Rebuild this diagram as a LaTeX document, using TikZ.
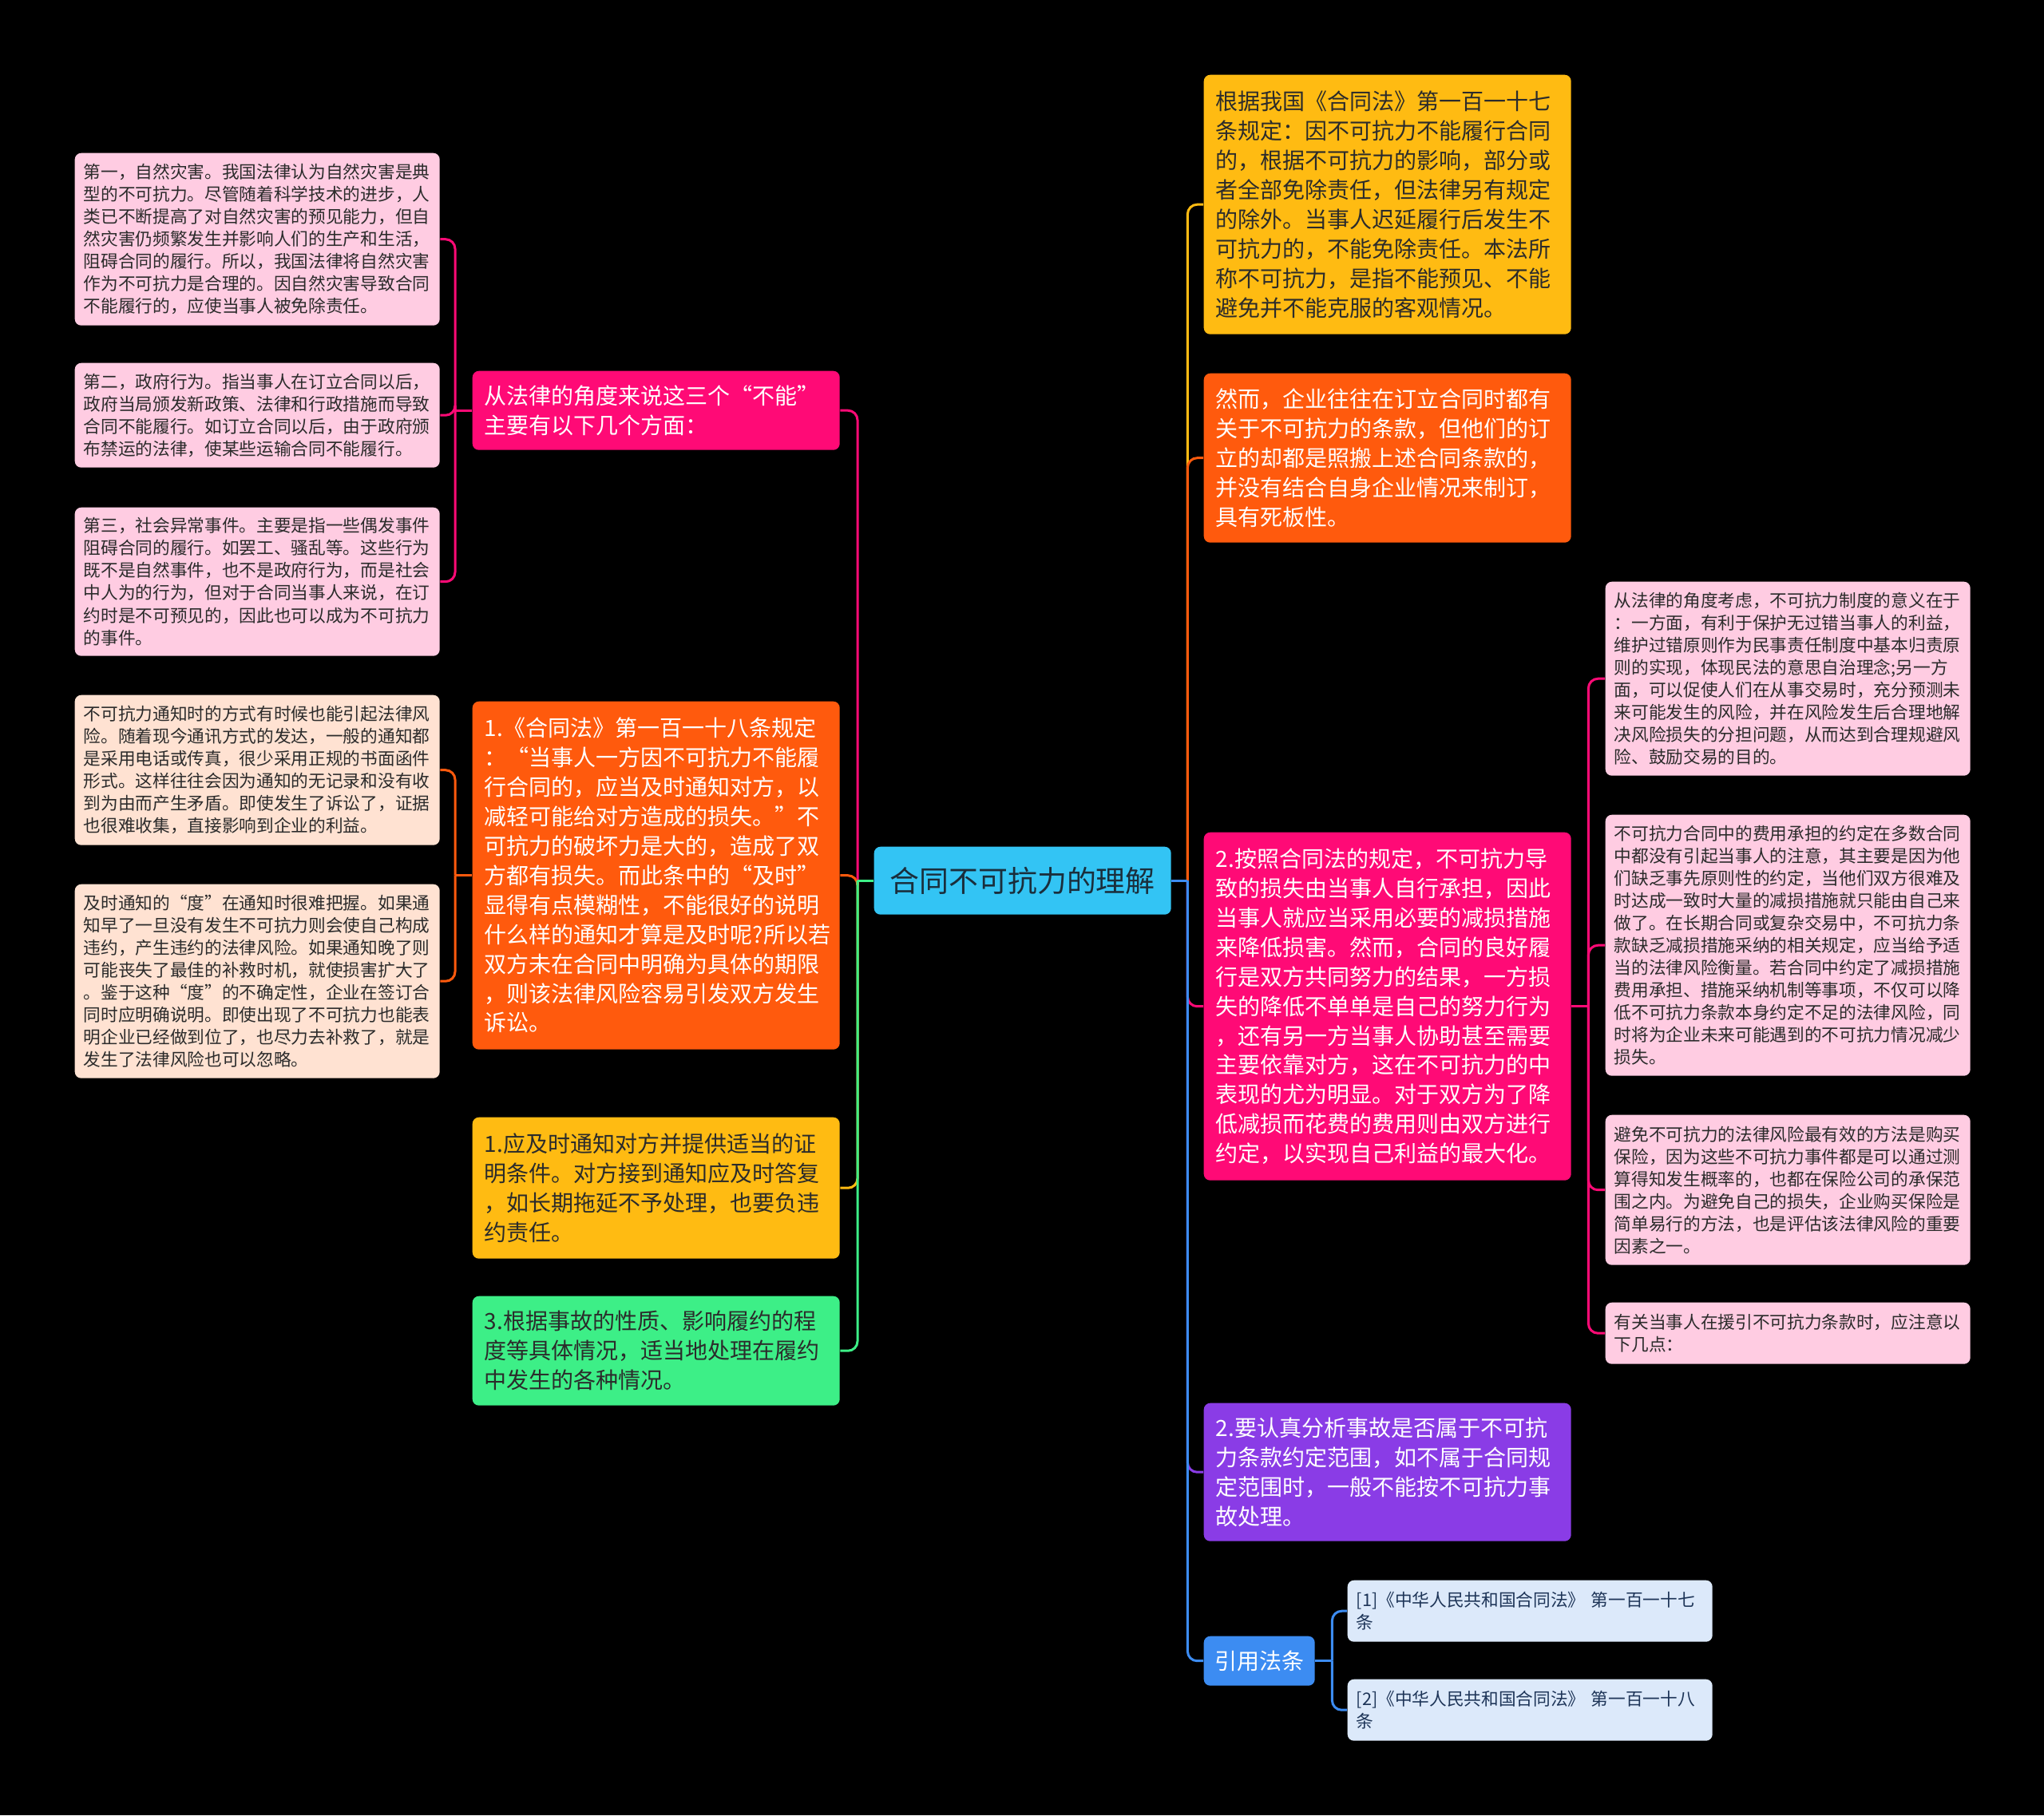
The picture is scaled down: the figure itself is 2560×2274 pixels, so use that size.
\documentclass[tikz,border=0pt]{standalone}
\usepackage{fontspec}
\usepackage{xcolor}
\usepackage{tikz}
\usetikzlibrary{positioning, calc}
\newfontfamily\cjk{Noto Sans CJK SC}

\definecolor{cRoot}{HTML}{33C4F4}
\definecolor{cRootText}{HTML}{1A2E3C}
\definecolor{cPink}{HTML}{FF0A76}
\definecolor{cOrange}{HTML}{FF5A0D}
\definecolor{cYellow}{HTML}{FFBB12}
\definecolor{cGreen}{HTML}{3DEF87}
\definecolor{cPurple}{HTML}{8A3CE6}
\definecolor{cBlue}{HTML}{3C8CF2}
\definecolor{cLeafPink}{HTML}{FFCCE2}
\definecolor{cLeafPeach}{HTML}{FFE2D2}
\definecolor{cLeafBlue}{HTML}{DCE9FA}
\definecolor{cInk}{HTML}{2B2B2B}
\definecolor{cNavy}{HTML}{1E3558}

\begin{document}
\begin{tikzpicture}[
    x=0.1mm, y=-0.1mm,
    root/.style={anchor=north west, fill=cRoot, text=cRootText, rounded corners=0.8mm,
      minimum width=37.2mm, minimum height=8.5mm, inner sep=0pt, font=\cjk\fontsize{10.5pt}{12pt}\selectfont},
    branch/.style={anchor=north west, rounded corners=0.8mm, align=left, text width=43mm,
      inner xsep=1.5mm, inner ysep=0pt, font=\cjk\fontsize{7.97pt}{10.5pt}\selectfont},
    tag/.style={anchor=north west, rounded corners=0.8mm, align=center, inner sep=0pt,
      font=\cjk\fontsize{7.97pt}{10.5pt}\selectfont},
    leaf/.style={anchor=north west, rounded corners=0.8mm, align=left, text width=43.5mm,
      inner xsep=1.1mm, inner ysep=0pt, text=cInk, font=\cjk\fontsize{6.17pt}{7.97pt}\selectfont},
    link/.style={draw=#1, line width=0.3mm}
]
\fill[black] (0,0) rectangle (2560,2274);
% central topic
\node[root] (root) at (1094,1060) {合同不可抗力的理解};
% left branches
\node[branch, fill=cPink, text=white, minimum height=9.9mm] (L1) at (591,464)
  {从法律的角度来说这三个“不能”\\主要有以下几个方面：};
\node[branch, fill=cOrange, text=white, minimum height=43.6mm] (L2) at (591,878)
  {1.《合同法》第一百一十八条规定\\：“当事人一方因不可抗力不能履\\行合同的，应当及时通知对方，以\\减轻可能给对方造成的损失。”不\\可抗力的破坏力是大的，造成了双\\方都有损失。而此条中的“及时”\\显得有点模糊性，不能很好的说明\\什么样的通知才算是及时呢?所以若\\双方未在合同中明确为具体的期限\\，则该法律风险容易引发双方发生\\诉讼。};
\node[branch, fill=cYellow, text=cInk, minimum height=17.7mm] (L3) at (591,1399)
  {1.应及时通知对方并提供适当的证\\明条件。对方接到通知应及时答复\\，如长期拖延不予处理，也要负违\\约责任。};
\node[branch, fill=cGreen, text=cInk, minimum height=13.7mm] (L4) at (591,1623)
  {3.根据事故的性质、影响履约的程\\度等具体情况，适当地处理在履约\\中发生的各种情况。};
% left leaves
\node[leaf, fill=cLeafPink, minimum height=21.6mm] (LL1) at (93,191)
  {第一，自然灾害。我国法律认为自然灾害是典\\型的不可抗力。尽管随着科学技术的进步，人\\类已不断提高了对自然灾害的预见能力，但自\\然灾害仍频繁发生并影响人们的生产和生活，\\阻碍合同的履行。所以，我国法律将自然灾害\\作为不可抗力是合理的。因自然灾害导致合同\\不能履行的，应使当事人被免除责任。};
\node[leaf, fill=cLeafPink, minimum height=13.1mm] (LL2) at (93,454)
  {第二，政府行为。指当事人在订立合同以后，\\政府当局颁发新政策、法律和行政措施而导致\\合同不能履行。如订立合同以后，由于政府颁\\布禁运的法律，使某些运输合同不能履行。};
\node[leaf, fill=cLeafPink, minimum height=18.6mm] (LL3) at (93,635)
  {第三，社会异常事件。主要是指一些偶发事件\\阻碍合同的履行。如罢工、骚乱等。这些行为\\既不是自然事件，也不是政府行为，而是社会\\中人为的行为，但对于合同当事人来说，在订\\约时是不可预见的，因此也可以成为不可抗力\\的事件。};
\node[leaf, fill=cLeafPeach, minimum height=18.8mm] (LL4) at (93,870)
  {不可抗力通知时的方式有时候也能引起法律风\\险。随着现今通讯方式的发达，一般的通知都\\是采用电话或传真，很少采用正规的书面函件\\形式。这样往往会因为通知的无记录和没有收\\到为由而产生矛盾。即使发生了诉讼了，证据\\也很难收集，直接影响到企业的利益。};
\node[leaf, fill=cLeafPeach, minimum height=24.3mm] (LL5) at (93,1107)
  {及时通知的“度”在通知时很难把握。如果通\\知早了一旦没有发生不可抗力则会使自己构成\\违约，产生违约的法律风险。如果通知晚了则\\可能丧失了最佳的补救时机，就使损害扩大了\\。鉴于这种“度”的不确定性，企业在签订合\\同时应明确说明。即使出现了不可抗力也能表\\明企业已经做到位了，也尽力去补救了，就是\\发生了法律风险也可以忽略。};
% right branches
\node[branch, fill=cYellow, text=cInk, minimum height=32.5mm] (R1) at (1507,93)
  {根据我国《合同法》第一百一十七\\条规定：因不可抗力不能履行合同\\的，根据不可抗力的影响，部分或\\者全部免除责任，但法律另有规定\\的除外。当事人迟延履行后发生不\\可抗力的，不能免除责任。本法所\\称不可抗力，是指不能预见、不能\\避免并不能克服的客观情况。};
\node[branch, fill=cOrange, text=white, minimum height=21.2mm] (R2) at (1507,467)
  {然而，企业往往在订立合同时都有\\关于不可抗力的条款，但他们的订\\立的却都是照搬上述合同条款的，\\并没有结合自身企业情况来制订，\\具有死板性。};
\node[branch, fill=cPink, text=white, minimum height=43.6mm] (R3) at (1507,1042)
  {2.按照合同法的规定，不可抗力导\\致的损失由当事人自行承担，因此\\当事人就应当采用必要的减损措施\\来降低损害。然而，合同的良好履\\行是双方共同努力的结果，一方损\\失的降低不单单是自己的努力行为\\，还有另一方当事人协助甚至需要\\主要依靠对方，这在不可抗力的中\\表现的尤为明显。对于双方为了降\\低减损而花费的费用则由双方进行\\约定，以实现自己利益的最大化。};
\node[branch, fill=cPurple, text=white, minimum height=17.3mm] (R4) at (1507,1757)
  {2.要认真分析事故是否属于不可抗\\力条款约定范围，如不属于合同规\\定范围时，一般不能按不可抗力事\\故处理。};
\node[tag, fill=cBlue, text=white, minimum width=13.9mm, minimum height=6.2mm] (R5) at (1507,2049) {引用法条};
% right leaves
\node[leaf, fill=cLeafPink, minimum height=24.3mm] (RR1) at (2010,728)
  {从法律的角度考虑，不可抗力制度的意义在于\\：一方面，有利于保护无过错当事人的利益，\\维护过错原则作为民事责任制度中基本归责原\\则的实现，体现民法的意思自治理念;另一方\\面，可以促使人们在从事交易时，充分预测未\\来可能发生的风险，并在风险发生后合理地解\\决风险损失的分担问题，从而达到合理规避风\\险、鼓励交易的目的。};
\node[leaf, fill=cLeafPink, minimum height=32.7mm] (RR2) at (2010,1020)
  {不可抗力合同中的费用承担的约定在多数合同\\中都没有引起当事人的注意，其主要是因为他\\们缺乏事先原则性的约定，当他们双方很难及\\时达成一致时大量的减损措施就只能由自己来\\做了。在长期合同或复杂交易中，不可抗力条\\款缺乏减损措施采纳的相关规定，应当给予适\\当的法律风险衡量。若合同中约定了减损措施\\费用承担、措施采纳机制等事项，不仅可以降\\低不可抗力条款本身约定不足的法律风险，同\\时将为企业未来可能遇到的不可抗力情况减少\\损失。};
\node[leaf, fill=cLeafPink, minimum height=18.8mm] (RR3) at (2010,1396)
  {避免不可抗力的法律风险最有效的方法是购买\\保险，因为这些不可抗力事件都是可以通过测\\算得知发生概率的，也都在保险公司的承保范\\围之内。为避免自己的损失，企业购买保险是\\简单易行的方法，也是评估该法律风险的重要\\因素之一。};
\node[leaf, fill=cLeafPink, minimum height=7.7mm] (RR4) at (2010,1631)
  {有关当事人在援引不可抗力条款时，应注意以\\下几点：};
% cited articles
\node[leaf, fill=cLeafBlue, text=cNavy, minimum height=7.7mm] (C1) at (1687,1979)
  {[1]《中华人民共和国合同法》 第一百一十七\\条};
\node[leaf, fill=cLeafBlue, text=cNavy, minimum height=7.7mm] (C2) at (1687,2103)
  {[2]《中华人民共和国合同法》 第一百一十八\\条};
% junctions
\coordinate (jRootL) at ($(root.west)+(-20,0)$);
\coordinate (jRootR) at ($(root.east)+(20,0)$);
\coordinate (jL1) at ($(L1.west)+(-21,0)$);
\coordinate (jL2) at ($(L2.west)+(-21,0)$);
\coordinate (jR3) at ($(R3.east)+(21,0)$);
\coordinate (jR5) at ($(R5.east)+(21,0)$);
% connectors to the left
\foreach \kid/\col in {L1/cPink, L2/cOrange, L3/cYellow, L4/cGreen}{
  \draw[link=\col] (root.west) -- (jRootL);
  \draw[link=\col, rounded corners=1.2mm] (jRootL) |- (\kid.east);
}
\foreach \kid in {LL1, LL2, LL3}{
  \draw[link=cPink] (L1.west) -- (jL1);
  \draw[link=cPink, rounded corners=1.2mm] (jL1) |- (\kid.east);
}
\foreach \kid in {LL4, LL5}{
  \draw[link=cOrange] (L2.west) -- (jL2);
  \draw[link=cOrange, rounded corners=1.2mm] (jL2) |- (\kid.east);
}
% connectors to the right
\foreach \kid/\col in {R1/cYellow, R2/cOrange, R3/cPink, R4/cPurple, R5/cBlue}{
  \draw[link=\col] (root.east) -- (jRootR);
  \draw[link=\col, rounded corners=1.2mm] (jRootR) |- (\kid.west);
}
\foreach \kid in {RR1, RR2, RR3, RR4}{
  \draw[link=cPink] (R3.east) -- (jR3);
  \draw[link=cPink, rounded corners=1.2mm] (jR3) |- (\kid.west);
}
\foreach \kid in {C1, C2}{
  \draw[link=cBlue] (R5.east) -- (jR5);
  \draw[link=cBlue, rounded corners=1.2mm] (jR5) |- (\kid.west);
}
\end{tikzpicture}
\end{document}
